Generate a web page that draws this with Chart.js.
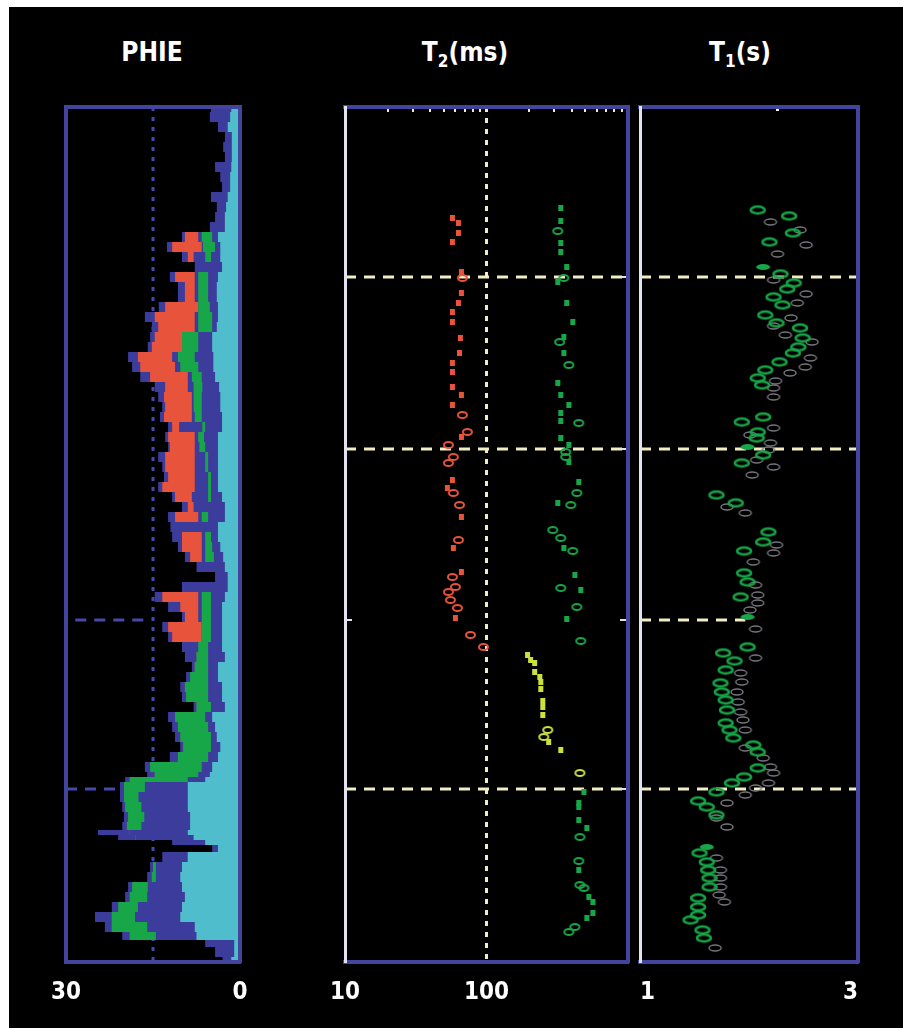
<!DOCTYPE html>
<html>
<head>
<meta charset="utf-8">
<title>PHIE / T2 / T1 log</title>
<script src="https://cdn.jsdelivr.net/npm/chart.js@4.4.1/dist/chart.umd.min.js"></script>
<style>
  html, body { margin: 0; padding: 0; background: #fff; }
  #page { position: relative; width: 903px; height: 1028px; overflow: hidden; background: #fff; }
  #black { position: absolute; left: 9px; top: 7px; width: 894px; height: 1021px; background: #000; }
  .track { position: absolute; top: 0; height: 1028px; }
  .title { position: absolute; top: 39px; color: #fff; font-weight: bold; font-size: 26px; line-height: 26px;
           white-space: nowrap; transform: translateX(-50%);
           font-family: 'DejaVu Sans Condensed', 'Liberation Sans Narrow', sans-serif; }
  .title sub { font-size: 17px; line-height: 0; vertical-align: -6px; }
</style>
</head>
<body>
<div id="page">
  <div id="black"></div>
  <div class="title" style="left:152px">PHIE</div>
  <div class="title" style="left:465px">T<sub>2</sub>(ms)</div>
  <div class="title" style="left:740px">T<sub>1</sub>(s)</div>
  <div class="track" style="left:0;width:270px"><canvas id="phie"></canvas></div>
  <div class="track" style="left:300px;width:340px"><canvas id="t2"></canvas></div>
  <div class="track" style="left:610px;width:293px"><canvas id="t1"></canvas></div>
</div>
<script>
// depth runs 0 (top of log) .. 855 (bottom)
const depthMax = 855;
const zoneDepths = [170, 342, 513, 682];

// PHIE track, porosity units, outer edge of each band
const phieDepth = [0,5,15,25,35,45,55,65,75,85,95,105,115,
  125,135,145,155,165,175,185,195,205,215,
  225,235,245,255,265,275,285,295,305,315,
  325,335,345,355,365,375,385,395,405,415,
  425,435,445,455,465,475,485,495,505,515,
  525,535,545,555,565,575,585,595,605,615,
  625,635,645,655,665,
  670,675,685,695,705,715,
  723,728,733,738,
  745,755,765,775,785,795,805,815,825,
  833,840,850,855];
const phieTotal = [5.0,5.2,3.8,2.6,2.9,2.6,4.3,3.4,3.1,5.0,4.0,4.3,5.2,
  10.0,12.6,10.0,7.8,12.1,10.7,10.7,14.0,16.4,15.2,
  15.5,15.9,19.3,18.6,17.2,14.7,14.1,13.4,13.8,12.4,
  12.9,12.4,14.1,13.4,13.1,14.1,11.7,10.0,12.4,12.0,
  11.7,10.7,9.5,7.5,4.3,10.0,14.7,12.4,10.0,13.4,
  12.4,10.0,9.5,8.3,9.3,10.3,10.0,8.0,12.4,11.7,
  11.2,10.3,12.1,16.4,16.0,
  19.8,20.7,20.7,20.3,20.0,20.3,
  24.5,21.0,11.7,4.8,
  13.4,15.5,16.0,19.3,19.8,22.1,25.0,23.3,20.3,
  6.0,4.3,3.0,3.0];
const phieRed = [1.5,1.7,2.1,1.4,1.4,1.4,1.5,1.7,1.7,2.1,2.4,2.6,2.6,
  9.5,11.7,9.0,4.3,11.2,9.5,9.5,12.9,14.7,14.1,
  14.7,15.2,17.6,17.2,15.5,12.9,13.1,12.9,13.1,11.7,
  12.4,12.1,12.9,12.9,12.4,13.4,11.2,9.0,11.2,3.8,
  10.0,10.0,8.6,2.6,2.1,2.1,13.4,10.3,9.5,12.4,
  11.7,7.2,7.5,7.8,8.6,9.5,9.3,7.5,11.2,10.7,
  10.3,9.8,10.7,15.5,14.7,
  19.0,20.0,20.0,19.8,19.3,19.5,
  19.0,18.0,6.0,3.8,
  9.0,15.0,15.2,18.6,19.0,21.0,22.1,22.1,19.0,
  1.0,1.0,1.5,1.5];
const phieRedInner = [1.5,1.7,2.1,1.4,1.4,1.4,1.5,1.7,1.7,2.1,2.4,2.6,2.6,
  7.2,6.6,8.0,4.3,7.8,7.8,7.8,7.2,7.8,7.8,
  10.0,10.0,11.7,11.2,9.0,9.0,8.3,8.3,8.3,10.5,
  7.8,7.8,7.8,7.8,7.8,7.8,8.3,8.0,7.2,3.8,
  6.6,6.6,6.6,2.6,2.1,2.1,7.2,7.2,7.2,6.6,
  6.6,7.2,7.5,7.8,8.6,9.5,9.3,7.5,11.2,10.7,
  10.3,9.8,10.7,15.5,14.7,
  19.0,20.0,20.0,19.8,19.3,19.5,
  19.0,18.0,6.0,3.8,
  9.0,15.0,15.2,18.6,19.0,21.0,22.1,22.1,19.0,
  1.0,1.0,1.5,1.5];
const phieGreen = [1.5,1.7,2.1,1.4,1.4,1.4,1.5,1.7,1.7,2.1,2.4,2.6,2.6,
  6.6,6.4,6.0,4.3,7.2,7.2,7.2,7.2,7.2,7.2,
  10.0,10.0,10.7,10.3,8.3,8.0,8.0,8.0,7.8,6.5,
  7.2,7.0,6.0,6.0,5.5,5.5,5.5,5.0,6.6,3.8,
  6.0,6.0,6.0,2.6,2.1,2.1,6.6,6.6,6.6,6.6,
  6.6,7.2,7.5,7.8,8.6,9.5,9.3,7.5,11.2,10.7,
  10.3,9.8,10.7,15.5,14.7,
  19.0,20.0,20.0,19.8,19.3,19.5,
  19.0,18.0,6.0,3.8,
  9.0,15.0,15.2,18.6,19.0,21.0,22.1,22.1,19.0,
  1.0,1.0,1.5,1.5];
const phieBlue = [1.5,1.7,2.1,1.4,1.4,1.4,1.5,1.7,1.7,2.1,2.4,2.6,2.6,
  4.8,4.3,5.0,4.3,5.5,5.5,5.5,5.2,4.8,4.8,
  7.2,7.2,7.8,7.2,6.6,6.5,6.6,6.6,6.6,6.0,
  6.2,6.0,5.5,5.5,5.0,5.0,5.0,5.0,5.5,3.8,
  5.0,4.8,4.5,2.6,2.1,2.1,5.0,5.0,5.0,5.0,
  5.0,5.5,5.5,5.5,5.5,5.5,5.5,5.0,6.0,5.5,
  5.0,5.0,5.5,6.6,7.2,
  9.0,16.4,17.5,17.0,16.5,17.0,
  19.0,18.0,6.0,3.8,
  9.0,14.5,14.5,15.9,16.0,17.6,18.1,16.0,14.5,
  1.0,1.0,1.5,1.5];
const phieCyan = [1.5,1.7,2.1,1.4,1.4,1.4,1.5,1.7,1.7,2.1,2.4,2.6,2.6,
  3.8,3.4,3.4,3.1,3.8,4.0,4.0,3.8,3.8,4.0,
  4.8,4.8,4.6,4.6,4.3,3.6,3.4,3.4,3.1,3.1,
  3.8,3.8,3.8,3.8,3.8,3.8,3.1,2.6,2.6,3.8,
  3.8,3.4,2.9,2.6,2.1,2.1,2.6,3.1,3.1,3.1,
  3.1,3.1,2.6,3.8,3.8,3.1,3.1,2.6,4.8,4.3,
  4.0,3.4,3.8,4.8,5.2,
  6.0,9.0,9.0,9.0,8.6,8.6,
  9.0,8.0,6.0,3.8,
  9.0,10.0,10.3,10.0,9.5,10.0,10.3,7.8,7.5,
  1.0,1.0,1.5,1.5];
const phieCutoff = 15;
const phieZoneLines = [[513, 28.4, 15.5], [682, 30, 20.7]]; // depth, from, to

// T2 track, ms, [depth, T2]
const t2RedFilled = [[111,57.4],[116,63.3],[126,63.3],[135,57.4],[165,66.5],[186,66.5],[196,63.3],[205,57.4],
  [215,57.4],[231,65.4],[246,64.4],[256,57.4],[265,57.4],[280,57.4],[288,66.5],[298,57.4],[330,66.5],
  [373,57.4],[381,52.9],[410,66.5],[441,58.3],[465,66.5],[511,60.3]];
const t2RedOpen = [[171,67.6],[308,67.6],[325,73.3],[338,53.8],[350,58.3],[356,53.8],[386,58.3],[398,64.4],
  [433,63.3],[470,57.4],[480,60.3],[485,53.8],[493,55.6],[501,62.3],[528,77.0],[540,95.2]];
const t2GreenFilled = [[101,335],[114,335],[136,335],[145,335],[160,369],[175,319],[196,369],[215,407],
  [230,352],[246,352],[276,319],[288,335],[298,382],[306,335],[314,335],[331,335],[338,382],[355,382],
  [375,449],[396,319],[441,352],[468,421],[483,464],[512,369],[685,488],[696,449],[700,449],[713,449],
  [721,512],[763,449],[790,529],[795,565],[806,565],[811,512]];
const t2GreenOpen = [[124,319],[171,352],[235,329],[258,382],[316,449],[345,363],[350,363],[386,435],
  [398,394],[423,294],[431,335],[444,407],[481,335],[500,435],[534,464],[730,457],[754,449],[778,457],
  [781,488],[820,421],[825,382]];
const t2YellowFilled = [[548,195],[553,205],[556,219],[565,219],[570,238],[575,242],[582,242],[594,250],
  [600,250],[608,250],[635,275],[643,335]];
const t2YellowOpen = [[623,271],[630,254],[666,457]];
const t2Cutoff = 100;
const t2TopTicks = [20,30,40,50,60,70,80,90,200,300,400,500,600,700,800,900];

// T1 track, s, [depth, T1]
const t1Green = [[103,1.81],[109,2.12],[126,2.16],[135,1.92],[167,2.03],[176,2.17],[182,2.10],[190,1.96],
  [198,2.05],[208,1.88],[216,1.99],[221,2.24],[231,2.27],[240,2.22],[246,2.16],[255,2.02],[263,1.88],
  [271,1.81],[278,1.85],[310,1.86],[315,1.67],[325,1.81],[331,1.80],[348,1.86],[356,1.67],[388,1.47],
  [396,1.62],[425,1.91],[435,1.86],[444,1.69],[466,1.69],[475,1.72],[490,1.66],[540,1.72],[546,1.52],
  [554,1.61],[563,1.54],[576,1.50],[585,1.51],[593,1.54],[603,1.55],[616,1.54],[623,1.57],[631,1.60],
  [638,1.77],[645,1.81],[661,1.81],[670,1.69],[676,1.59],[685,1.47],[694,1.34],[700,1.40],[708,1.47],
  [746,1.35],[755,1.40],[763,1.41],[771,1.42],[780,1.42],[791,1.34],[800,1.34],[808,1.34],[813,1.29],
  [823,1.37],[831,1.38]];
const t1GreenFilled = [[160,1.86],[340,1.72],[510,1.72],[740,1.40]];
const t1Gray = [[115,1.93],[123,2.24],[138,2.31],[147,2.00],[173,1.96],[187,2.31],[196,2.21],[211,2.14],
  [219,1.96],[228,2.08],[235,2.38],[251,2.36],[260,2.30],[266,2.13],[274,1.98],[281,1.96],[290,1.96],
  [321,1.96],[328,1.74],[336,1.93],[343,1.91],[353,1.80],[360,1.96],[368,1.76],[400,1.55],[406,1.70],
  [438,1.99],[446,1.96],[455,1.77],[478,1.79],[488,1.81],[496,1.81],[503,1.74],[522,1.79],[551,1.79],
  [566,1.66],[575,1.67],[585,1.63],[595,1.64],[605,1.66],[613,1.68],[623,1.70],[641,1.70],[651,1.86],
  [660,1.93],[666,1.96],[676,1.91],[681,1.79],[688,1.70],[696,1.55],[711,1.47],[720,1.55],[751,1.47],
  [763,1.50],[771,1.50],[780,1.50],[788,1.49],[795,1.53],[841,1.46]];
const t1ZoneEnds = [3, 3, 1.7, 3];
const t1TopTicks = [2];

const FONT = "'DejaVu Sans Condensed', 'Liberation Sans Narrow', 'DejaVu Sans', sans-serif";
Chart.defaults.font.family = FONT;

const frameBlue = '#42449e';
const fillBlue = '#3c3c9c';
const cyan = '#4fbdcc';
const green = '#17a748';
const red = '#e8533b';
const yellow = '#cde03c';
const cream = '#f1eec4';
const gray = '#74747c';
const white = '#e2e2f2';

function marker(w, h, color, lw, filled, shape) {
  const pad = Math.ceil(lw) + 1;
  const c = document.createElement('canvas');
  c.width = w + pad * 2;
  c.height = h + pad * 2;
  const g = c.getContext('2d');
  g.beginPath();
  if (shape === 'rect') g.rect(pad, pad, w, h);
  else g.ellipse(c.width / 2, c.height / 2, w / 2, h / 2, 0, 0, Math.PI * 2);
  if (filled) { g.fillStyle = color; g.fill(); }
  else { g.strokeStyle = color; g.lineWidth = lw; g.stroke(); }
  return c;
}

function markers(pairs, img) {
  return {
    data: pairs.map(([d, v]) => ({ x: v, y: d })),
    pointStyle: img, pointRadius: 6, showLine: false
  };
}

function line(points, color, width, dash) {
  return {
    data: points, borderColor: color, borderWidth: width, borderDash: dash,
    pointRadius: 0, showLine: true, fill: false
  };
}

// blocky fill from 0 out to the given edge, like the log plot
function layer(values, color) {
  return {
    data: phieDepth.map((d, i) => ({ x: values[i], y: d })),
    backgroundColor: color, borderWidth: 0, pointRadius: 0, fill: 'origin', stepped: 'after'
  };
}

function frame(axis, position, color, width, extra) {
  const s = {
    axis, position, display: true,
    grid: { display: false, drawTicks: false },
    ticks: { display: false },
    border: { color, width, z: 1 },
    afterFit: (sc) => {
      if (axis === 'y') sc.width = 0;
      else sc.height = position === 'top' ? 0 : 66;
    }
  };
  return Object.assign(s, extra);
}

function tickMarks(values, color, len, width) {
  return {
    grid: { display: true, drawOnChartArea: false, drawTicks: true, tickLength: len, color, lineWidth: width },
    afterBuildTicks: (sc) => { sc.ticks = values.map(v => ({ value: v })); }
  };
}

function labelAxis(values, align) {
  return {
    ticks: {
      display: true, color: '#fff', padding: 16, align, maxRotation: 0, autoSkip: false,
      font: { size: 24, weight: 'bold', family: FONT },
      callback: (v) => String(v)
    },
    afterBuildTicks: (sc) => { sc.ticks = values.map(v => ({ value: v })); }
  };
}

const common = {
  responsive: true, maintainAspectRatio: false, animation: false, events: [],
  plugins: { legend: { display: false }, tooltip: { enabled: false } }
};

const depthAxis = (position, color, width, extra) =>
  frame('y', position, color, width, Object.assign({ type: 'linear', min: 0, max: depthMax, reverse: true }, extra));

// PHIE
new Chart(document.getElementById('phie'), {
  type: 'line',
  data: {
    datasets: [
      layer(phieCyan, cyan),
      layer(phieBlue, fillBlue),
      layer(phieGreen, green),
      layer(phieRedInner, fillBlue),
      layer(phieRed, red),
      layer(phieTotal, fillBlue),
      ...phieZoneLines.map(([d, a, b]) => line([{ x: a, y: d }, { x: b, y: d }], '#4648aa', 3, [11, 8])),
      line([{ x: phieCutoff, y: 0 }, { x: phieCutoff, y: depthMax }], '#4648aa', 3, [4, 6])
    ]
  },
  options: Object.assign({}, common, {
    indexAxis: 'y',
    layout: { padding: { left: 66, right: 30, top: 107, bottom: 0 } },
    scales: {
      x: frame('x', 'bottom', frameBlue, 4, Object.assign({ type: 'linear', min: 0, max: 30, reverse: true }, labelAxis([30, 0], 'center'))),
      xTop: frame('x', 'top', frameBlue, 4, { type: 'linear', min: 0, max: 30, reverse: true }),
      y: depthAxis('left', frameBlue, 4),
      yRight: depthAxis('right', frameBlue, 4)
    }
  })
});

// T2
new Chart(document.getElementById('t2'), {
  type: 'scatter',
  data: {
    datasets: [
      markers(t2RedFilled, marker(5, 6, red, 0, true, 'rect')),
      markers(t2RedOpen, marker(9, 6, red, 2, false)),
      markers(t2GreenFilled, marker(5, 6, green, 0, true, 'rect')),
      markers(t2GreenOpen, marker(9, 6, green, 2, false)),
      markers(t2YellowFilled, marker(5, 6, yellow, 0, true, 'rect')),
      markers(t2YellowOpen, marker(9, 6, yellow, 2, false)),
      ...[zoneDepths[0], zoneDepths[1], zoneDepths[3]].map(d => line([{ x: 10, y: d }, { x: 1000, y: d }], cream, 3, [11, 8])),
      line([{ x: t2Cutoff, y: 0 }, { x: t2Cutoff, y: depthMax }], cream, 3, [5, 6])
    ]
  },
  options: Object.assign({}, common, {
    layout: { padding: { left: 45, right: 12, top: 107, bottom: 0 } },
    scales: {
      x: frame('x', 'bottom', frameBlue, 4, Object.assign({ type: 'logarithmic', min: 10, max: 1000 }, labelAxis([10, 100], 'center'))),
      xTop: frame('x', 'top', frameBlue, 4, Object.assign({ type: 'logarithmic', min: 10, max: 1000 }, tickMarks(t2TopTicks, cream, -5, 2))),
      y: depthAxis('left', white, 3, tickMarks(zoneDepths, white, -7, 2)),
      yRight: depthAxis('right', frameBlue, 4, tickMarks(zoneDepths, white, -8, 2))
    }
  })
});

// T1
new Chart(document.getElementById('t1'), {
  type: 'scatter',
  data: {
    datasets: [
      markers(t1GreenFilled, marker(14, 6, green, 0, true)),
      markers(t1Green, marker(14, 7, green, 2.5, false)),
      markers(t1Gray, marker(12, 6, gray, 1.5, false)),
      ...zoneDepths.map((d, i) => line([{ x: 1, y: d }, { x: t1ZoneEnds[i], y: d }], cream, 3, [11, 8]))
    ]
  },
  options: Object.assign({}, common, {
    layout: { padding: { left: 30, right: 45, top: 107, bottom: 0 } },
    scales: {
      x: frame('x', 'bottom', frameBlue, 4, Object.assign({ type: 'logarithmic', min: 1, max: 3 }, labelAxis([1, 3], 'inner'))),
      xTop: frame('x', 'top', frameBlue, 4, Object.assign({ type: 'logarithmic', min: 1, max: 3 }, tickMarks(t1TopTicks, '#ffffff', -4, 3))),
      y: depthAxis('left', white, 3, tickMarks(zoneDepths, white, -6, 2)),
      yRight: depthAxis('right', frameBlue, 4)
    }
  })
});
</script>
</body>
</html>
